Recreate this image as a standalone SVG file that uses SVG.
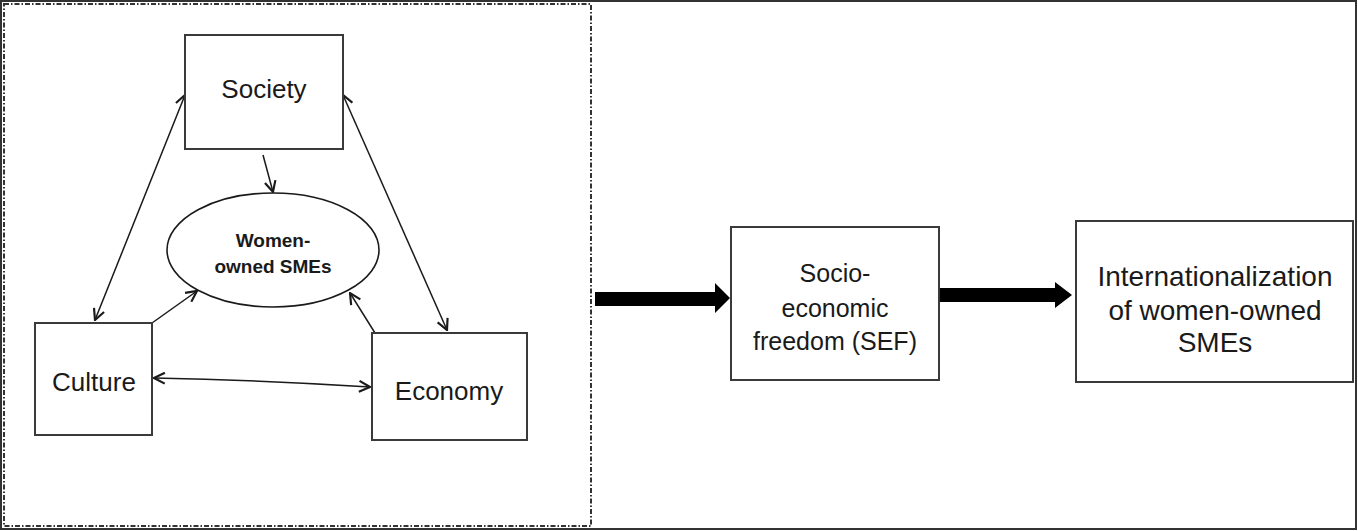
<svg xmlns="http://www.w3.org/2000/svg" width="1358" height="531" viewBox="0 0 1358 531">
<style>
.box{fill:#fff;stroke:#3a3a3a;stroke-width:2}
.lbl{font-family:"Liberation Sans",Arial,sans-serif;fill:#1a1a1a;text-anchor:middle}
.conn{stroke:#1a1a1a;stroke-width:1.5;fill:none}
.big{fill:#000;stroke:none}
</style>
<defs>
<marker id="ah" viewBox="0 0 12 12" refX="11" refY="6" markerWidth="13" markerHeight="13" markerUnits="userSpaceOnUse" orient="auto-start-reverse">
<path d="M1,1 L11,6 L1,11" fill="none" stroke="#1a1a1a" stroke-width="2"/>
</marker>
</defs>
<rect x="0" y="0" width="1358" height="531" fill="#fff"/>
<rect x="1" y="1" width="1355" height="528" fill="none" stroke="#333" stroke-width="2"/>
<rect x="4" y="4" width="587" height="522" fill="none" stroke="#333" stroke-width="2" stroke-dasharray="5 2 1.5 2"/>
<g id="connectors">
<line class="conn" x1="185" y1="95" x2="95" y2="320" marker-start="url(#ah)" marker-end="url(#ah)"/>
<line class="conn" x1="343" y1="95" x2="447" y2="330" marker-start="url(#ah)" marker-end="url(#ah)"/>
<line class="conn" x1="263" y1="155" x2="273" y2="192" marker-end="url(#ah)"/>
<line class="conn" x1="152" y1="323" x2="197" y2="291" marker-end="url(#ah)"/>
<line class="conn" x1="375" y1="333" x2="350" y2="293" marker-end="url(#ah)"/>
<path class="conn" d="M154,378 Q260,380 370,387" marker-start="url(#ah)" marker-end="url(#ah)"/>
<polygon class="big" points="595,292 715,292 715,283 730,298 715,313 715,306 595,306"/>
<polygon class="big" points="939,288 1055,288 1055,282 1072,295 1055,308 1055,302 939,302"/>
</g>
<g id="society">
<rect class="box" x="185" y="35" width="158" height="114"/>
<text class="lbl" x="264" y="98" font-size="26">Society</text>
</g>
<g id="women-owned-smes">
<ellipse cx="273" cy="250" rx="106" ry="57" fill="#fff" stroke="#1a1a1a" stroke-width="1.6"/>
<text class="lbl" x="273" y="247" font-size="19" font-weight="bold">Women-</text>
<text class="lbl" x="273" y="273" font-size="19" font-weight="bold">owned SMEs</text>
</g>
<g id="culture">
<rect class="box" x="35" y="323" width="117" height="112"/>
<text class="lbl" x="94" y="391" font-size="26">Culture</text>
</g>
<g id="economy">
<rect class="box" x="372" y="333" width="155" height="107"/>
<text class="lbl" x="449" y="400" font-size="26">Economy</text>
</g>
<g id="sef">
<rect class="box" x="731" y="227" width="208" height="153"/>
<text class="lbl" x="835" y="282" font-size="25">Socio-</text>
<text class="lbl" x="835" y="317" font-size="25">economic</text>
<text class="lbl" x="835" y="350" font-size="25">freedom (SEF)</text>
</g>
<g id="internationalization">
<rect class="box" x="1076" y="221" width="277" height="161"/>
<text class="lbl" x="1215" y="286" font-size="28">Internationalization</text>
<text class="lbl" x="1215" y="320" font-size="28">of women-owned</text>
<text class="lbl" x="1215" y="352" font-size="28">SMEs</text>
</g>
</svg>
